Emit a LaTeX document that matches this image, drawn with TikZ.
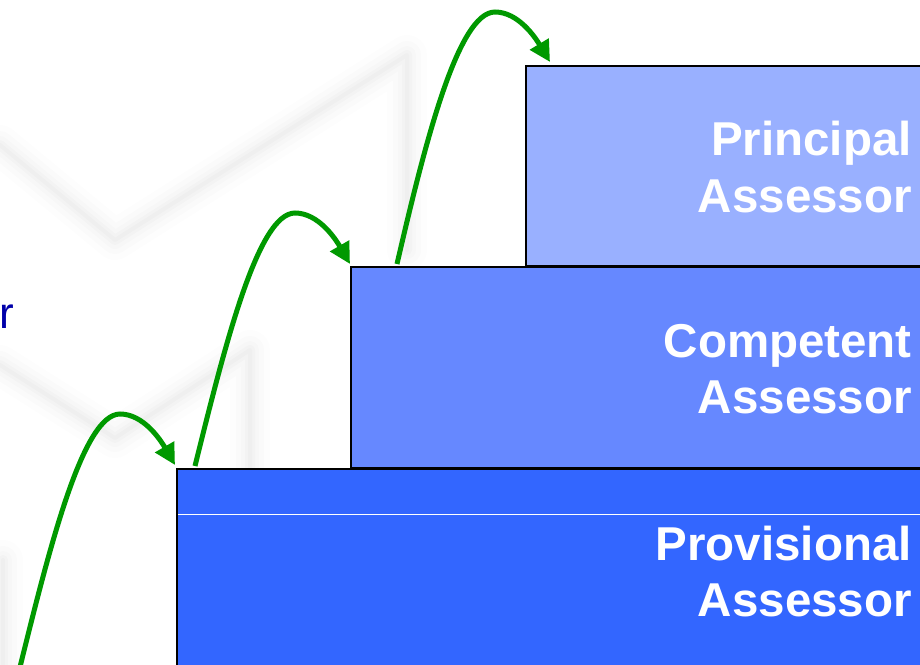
\documentclass[tikz,border=0pt]{standalone}
\usepackage{fontspec}
\setmainfont{Liberation Sans}
\usetikzlibrary{arrows.meta}
\definecolor{stepA}{RGB}{153,176,255}
\definecolor{stepB}{RGB}{102,136,255}
\definecolor{stepC}{RGB}{51,102,255}
\definecolor{jump}{RGB}{0,153,0}
\definecolor{navy}{RGB}{0,0,170}
\tikzset{
  stepbox/.style={draw=black,line width=2bp},
  lbl/.style={text=white,font=\fontsize{47.5bp}{56bp}\selectfont\bfseries,inner sep=0pt,anchor=base east},
  jumparrow/.style={draw=jump,line width=5bp,-{Triangle[length=21bp,width=21bp]}},
  shadow/.style={draw=black,line cap=round,line join=round}
}
\begin{document}
\begin{tikzpicture}[x=1bp,y=-1bp]
\useasboundingbox (0,0) rectangle (920,665);
\clip (0,0) rectangle (920,665);
\fill[white] (0,0) rectangle (920,665);
% faint background shadows
\foreach \w/\o in {40/0.008,28/0.01,18/0.012,10/0.015,4/0.015}{
  \draw[shadow,line width=\w bp,opacity=\o] (0,145) -- (115,240) -- (407,55) -- (407,250);
  \draw[shadow,line width=\w bp,opacity=\o] (0,365) -- (115,438) -- (250,350) -- (250,480);
  \draw[shadow,line width=\w bp,opacity=\o] (3,560) -- (3,665);
}
% steps
\path[stepbox,fill=stepA] (526,66) rectangle (930,266);
\path[stepbox,fill=stepB] (351,267) rectangle (930,468);
\path[stepbox,fill=stepC] (177,469) rectangle (930,680);
\draw[white,line width=1bp] (178,514) -- (930,514);
% labels
\node[lbl] (p1) at (912,155.5) {Principal};
\node[lbl] (p2) at (912,212) {Assessor};
\node[lbl] (c1) at (912,357) {Competent};
\node[lbl] (c2) at (912,413.5) {Assessor};
\node[lbl] (v1) at (912,560) {Provisional};
\node[lbl] (v2) at (912,616.5) {Assessor};
\node[text=navy,font=\fontsize{44bp}{50bp}\selectfont,inner sep=0pt,anchor=base east] (r) at (14,328) {r};
% jump coordinates
\coordinate (s1) at (20,667);
\coordinate (t1) at (175,465);
\coordinate (s2) at (195,466);
\coordinate (t2) at (350,264);
\coordinate (s3) at (397,264);
\coordinate (t3) at (550,62);
% arrows
\draw[jumparrow] (s1) .. controls (50,546) and (83,414) .. (120,414) .. controls (143,414) and (160,439) .. (t1);
\draw[jumparrow] (s2) .. controls (225,345) and (258,213) .. (295,213) .. controls (318,213) and (335,238) .. (t2);
\draw[jumparrow] (s3) .. controls (425,143) and (458,12) .. (495,12) .. controls (518,12) and (535,37) .. (t3);
\end{tikzpicture}
\end{document}
